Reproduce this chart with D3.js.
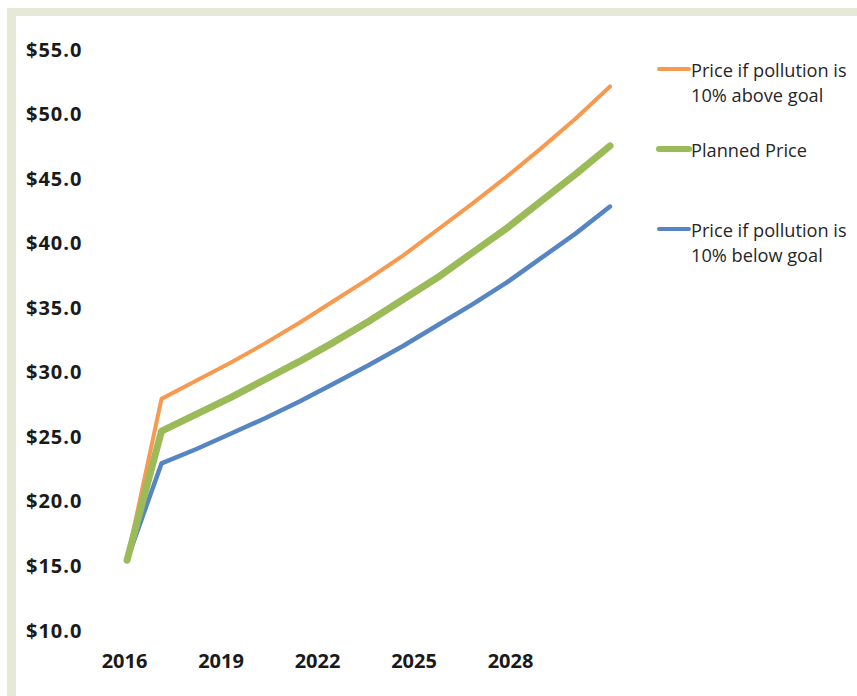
<!DOCTYPE html>
<html>
<head>
<meta charset="utf-8">
<script src="https://cdn.jsdelivr.net/npm/d3@7"></script>
<style>
  html, body { margin: 0; padding: 0; background: #ffffff; }
  svg { display: block; }
</style>
</head>
<body>
<svg id="chart" width="857" height="696"></svg>
<script>
// ---- data ----
const years = [2016,2017,2018,2019,2020,2021,2022,2023,2024,2025,2026,2027,2028,2029,2030];
const priceAbove   = [15.4,27.9,29.3,30.7,32.2,33.8,35.5,37.2,39.0,41.0,43.0,45.1,47.3,49.6,52.1];
const plannedPrice = [15.4,25.4,26.7,28.0,29.4,30.8,32.3,33.9,35.6,37.3,39.2,41.1,43.2,45.3,47.5];
const priceBelow   = [15.4,22.9,24.0,25.2,26.4,27.7,29.1,30.5,32.0,33.6,35.2,36.9,38.8,40.7,42.8];
const yTicks = [10,15,20,25,30,35,40,45,50,55];
const xTickLabels = [2016,2019,2022,2025,2028];
const seriesNames = [
  ["Price if pollution is", "10% above goal"],
  ["Planned Price"],
  ["Price if pollution is", "10% below goal"]
];

const W = 857, H = 696;
const svg = d3.select("#chart");

// frame (top and left beige band)
const frame = "#e6e9d5";
svg.append("rect").attr("x", 7).attr("y", 8).attr("width", W - 7).attr("height", 8).attr("fill", frame);
svg.append("rect").attr("x", 7).attr("y", 8).attr("width", 9).attr("height", H - 8).attr("fill", frame);

const font = "'Open Sans', 'Noto Sans', sans-serif";

const x = d3.scaleLinear().domain([2016, 2030]).range([127, 610]);
const xLab = d3.scaleLinear().domain([2016, 2028]).range([124, 510]);
const y = d3.scaleLinear().domain([10, 55]).range([630, 49]);

// y axis labels
const yAxis = d3.axisLeft(y).tickValues(yTicks).tickSize(0).tickPadding(0)
  .tickFormat(d => "$" + d3.format(".1f")(d));
const gy = svg.append("g").attr("transform", "translate(26,0)").call(yAxis);
gy.select(".domain").remove();
gy.selectAll("text")
  .attr("text-anchor", "start").attr("x", 0).attr("dy", "0.35em")
  .attr("font-family", font).attr("font-weight", "bold").attr("font-size", 20)
  .attr("letter-spacing", 1).attr("fill", "#1a1a1a");

// x axis labels
const xAxis = d3.axisBottom(xLab).tickValues(xTickLabels).tickSize(0).tickPadding(0).tickFormat(d3.format("d"));
const gx = svg.append("g").attr("transform", "translate(0,661)").call(xAxis);
gx.select(".domain").remove();
gx.selectAll("text")
  .attr("dy", "0.35em").attr("y", 0)
  .attr("font-family", font).attr("font-weight", "bold").attr("font-size", 20).attr("fill", "#1a1a1a");

// lines
const series = [
  { vals: priceAbove,   color: "#f79a4f", width: 4 },
  { vals: priceBelow,   color: "#5585c2", width: 4.5 },
  { vals: plannedPrice, color: "#9bbb59", width: 7 }
];
const line = d3.line().x((d, i) => x(years[i])).y(d => y(d));
series.forEach(s => {
  svg.append("path").datum(s.vals).attr("d", line)
    .attr("fill", "none").attr("stroke", s.color).attr("stroke-width", s.width)
    .attr("stroke-linejoin", "round").attr("stroke-linecap", "round");
});

// legend
const legendItems = [
  { color: "#f79a4f", width: 4, y: 69, lines: seriesNames[0] },
  { color: "#9bbb59", width: 6, y: 149, lines: seriesNames[1] },
  { color: "#5585c2", width: 4, y: 229, lines: seriesNames[2] }
];
legendItems.forEach(it => {
  svg.append("line").attr("x1", 659).attr("x2", 689).attr("y1", it.y).attr("y2", it.y)
    .attr("stroke", it.color).attr("stroke-width", it.width).attr("stroke-linecap", "round");
  const t = svg.append("text").attr("x", 691).attr("y", it.y + 2)
    .attr("font-family", font).attr("font-size", 18.2).attr("fill", "#262626");
  it.lines.forEach((ln, i) => {
    t.append("tspan").attr("x", 691).attr("dy", i === 0 ? "0.35em" : 25).text(ln);
  });
});
</script>
</body>
</html>
